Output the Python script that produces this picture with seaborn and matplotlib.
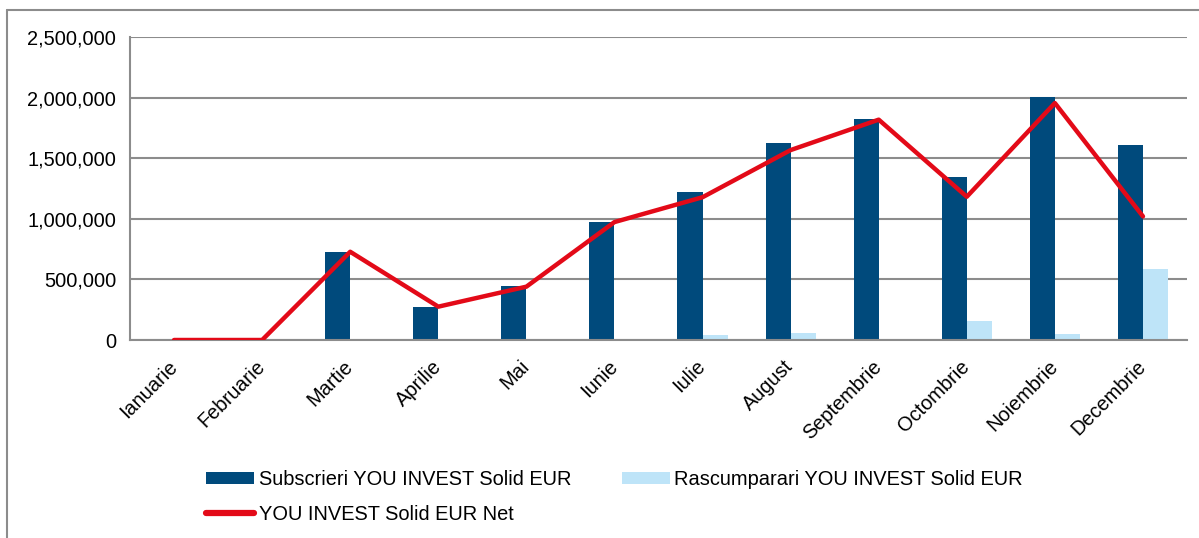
import numpy as np
import pandas as pd
import matplotlib
matplotlib.use("Agg")
import matplotlib.pyplot as plt
from matplotlib.lines import Line2D
from matplotlib.patches import Patch
from matplotlib.ticker import FuncFormatter, FixedLocator
import seaborn as sns

sns.set_style("white")
plt.rcParams["font.family"] = ["Liberation Sans", "DejaVu Sans"]
plt.rcParams["text.color"] = "black"
plt.rcParams["xtick.labelcolor"] = "black"
plt.rcParams["ytick.labelcolor"] = "black"

# =========================
# DATA
# =========================
luni = ["Ianuarie", "Februarie", "Martie", "Aprilie", "Mai", "Iunie",
        "Iulie", "August", "Septembrie", "Octombrie", "Noiembrie", "Decembrie"]

subscrieri = [0, 0, 728000, 275000, 445000, 973000,
              1218000, 1622000, 1820000, 1342000, 2002000, 1606000]
rascumparari = [0, 0, 0, 0, 0, 0,
                40000, 55000, 0, 160000, 50000, 585000]
net = [0, 0, 728000, 275000, 440000, 973000,
       1178000, 1567000, 1818000, 1182000, 1955000, 1020000]

lbl_sub = "Subscrieri YOU INVEST Solid EUR"
lbl_ras = "Rascumparari YOU INVEST Solid EUR"
lbl_net = "YOU INVEST Solid EUR Net"

c_sub = "#004A7C"
c_ras = "#BEE4F8"
c_net = "#E30A18"
c_grid = "#8C8C8C"

df = pd.DataFrame({
    "luna": luni * 2,
    "serie": [lbl_sub] * 12 + [lbl_ras] * 12,
    "valoare": subscrieri + rascumparari,
})

# =========================
# PLOT
# =========================
fig = plt.figure(figsize=(11.99, 5.38), dpi=100)
ax = fig.add_axes([130 / 1199, 1 - 340 / 538, 1057 / 1199, 303 / 538])

sns.barplot(
    data=df, x="luna", y="valoare", hue="serie",
    order=luni, hue_order=[lbl_sub, lbl_ras],
    palette=[c_sub, c_ras], width=0.57, gap=0,
    linewidth=0, saturation=1, ax=ax, legend=False,
)

sns.lineplot(x=np.arange(len(luni)), y=net, color=c_net, lw=3.2,
             ax=ax, solid_capstyle="round", zorder=5)

ax.set_xlim(-0.5, len(luni) - 0.5)
ax.set_ylim(0, 2500000)
ax.set_yticks(np.arange(0, 2500001, 500000))
ax.yaxis.set_major_formatter(FuncFormatter(lambda v, p: f"{int(v):,}"))
ax.yaxis.grid(True, color=c_grid, lw=1.5)
ax.set_axisbelow(True)

ax.set_xticks(np.arange(len(luni)))
ax.set_xticklabels(luni, rotation=45, ha="right", va="center",
                   rotation_mode="anchor")
ax.xaxis.set_minor_locator(FixedLocator(np.arange(-0.5, len(luni), 1)))
ax.tick_params(axis="x", which="major", length=0, pad=17, labelsize=14.4)
ax.tick_params(axis="x", which="minor", length=6, width=1.5, color=c_grid)
ax.tick_params(axis="y", length=6, width=1.5, color=c_grid, labelsize=14.4, pad=4)

ax.set_xlabel("")
ax.set_ylabel("")
for s in ["top", "right"]:
    ax.spines[s].set_visible(False)
for s in ["left", "bottom"]:
    ax.spines[s].set_color(c_grid)
    ax.spines[s].set_linewidth(1.5)

# legend, row-major order
handles = [
    Patch(facecolor=c_sub, edgecolor="none"),
    Line2D([0], [0], color=c_net, lw=4.5, solid_capstyle="round"),
    Patch(facecolor=c_ras, edgecolor="none"),
]
labels = [lbl_sub, lbl_net, lbl_ras]
fig.legend(handles, labels, ncol=2, loc="upper left",
           bbox_to_anchor=(196 / 1199, 1 - 460 / 538),
           frameon=False, fontsize=14.4, handlelength=2.4,
           handleheight=0.55, handletextpad=0.25, columnspacing=2.5,
           labelspacing=0.8, borderpad=0)

# outer border (cropped at right / bottom)
fig.add_artist(Line2D([7 / 1199, 7 / 1199], [0, 1 - 10 / 538],
                      color=c_grid, lw=1.5, transform=fig.transFigure))
fig.add_artist(Line2D([7 / 1199, 1], [1 - 10 / 538, 1 - 10 / 538],
                      color=c_grid, lw=1.5, transform=fig.transFigure))

plt.savefig("out.png", dpi=100)
plt.close()
